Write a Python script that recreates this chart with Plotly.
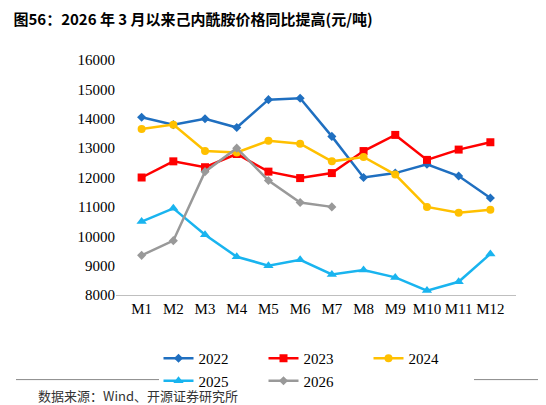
import plotly.graph_objects as go

months = [f"M{i}" for i in range(1, 13)]
y2022 = [14050, 13800, 14000, 13700, 14650, 14700, 13400, 12000, 12150, 12450, 12050, 11300]
y2023 = [12000, 12550, 12350, 12800, 12200, 11980, 12150, 12900, 13450, 12600, 12950, 13200]
y2024 = [13650, 13800, 12900, 12850, 13250, 13150, 12550, 12700, 12100, 11000, 10800, 10900]
y2025 = [10500, 10950, 10050, 9300, 9000, 9200, 8700, 8850, 8600, 8150, 8450, 9400]
y2026 = [9350, 9850, 12200, 13000, 11900, 11150, 11000]

series = [
    ("2022", y2022, "#1f6fc0", "diamond", 7),
    ("2023", y2023, "#ff0000", "square", 8),
    ("2024", y2024, "#ffc000", "circle", 8),
    ("2025", y2025, "#19b4ef", "triangle-up", 9),
    ("2026", y2026, "#999999", "diamond", 7),
]

fig = go.Figure()
for name, ys, color, sym, size in series:
    fig.add_trace(go.Scatter(
        x=months[:len(ys)], y=ys, name=name, mode="lines+markers",
        line=dict(color=color, width=2.5),
        marker=dict(symbol=sym, size=size, color=color),
    ))

fig.update_layout(
    width=546, height=405,
    paper_bgcolor="white", plot_bgcolor="white",
    font=dict(family="Times New Roman, Liberation Serif, Noto Sans CJK SC", size=15, color="black"),
    margin=dict(l=108, r=38, t=52, b=118),
    showlegend=True,
    legend=dict(orientation="h", x=0.5, xanchor="center", y=-0.2, yanchor="top",
                font=dict(size=15), entrywidth=60, itemwidth=30),
    title=dict(text="<b>图56：2026 年 3 月以来己内酰胺价格同比提高(元/吨)</b>",
               x=0.01, xanchor="left", y=0.985, yanchor="top",
               font=dict(size=15, family="Noto Sans CJK SC")),
    annotations=[dict(text="数据来源：Wind、开源证券研究所", xref="paper", yref="paper",
                      x=-0.2, y=-0.38, xanchor="left", yanchor="top", showarrow=False,
                      font=dict(size=13, family="Noto Sans CJK SC", color="#333333"))],
)
fig.update_xaxes(showline=True, linecolor="#bfbfbf", ticks="", showgrid=False)
fig.update_yaxes(range=[8000, 16000], dtick=1000, tickformat="d", showgrid=False, showline=False, ticks="")
fig.add_shape(type="line", xref="paper", yref="paper", x0=-0.25, x1=1.08, y0=-0.36, y1=-0.36,
              line=dict(color="#888888", width=1))

fig.write_html("out.html")
